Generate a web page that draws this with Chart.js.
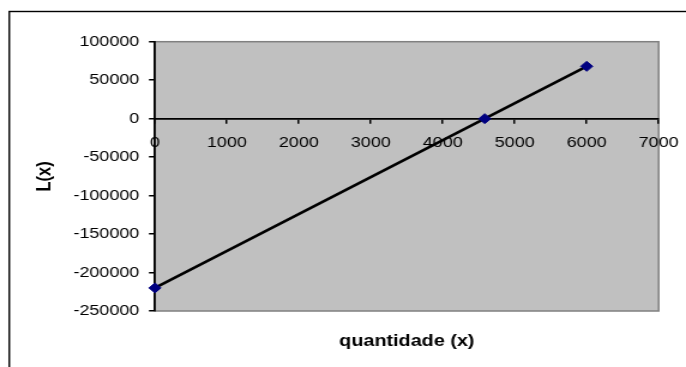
<!DOCTYPE html>
<html>
<head>
<meta charset="utf-8">
<script src="https://cdn.jsdelivr.net/npm/chart.js@4/dist/chart.umd.min.js"></script>
<style>
  html, body { margin: 0; padding: 0; background: #ffffff; overflow: hidden; }
  #wrap { width: 686px; height: 367px; position: relative; }
  /* the chart is drawn on a narrower canvas and widened to the page width */
  #c { display: block; width: 686px; height: 367px; }
</style>
</head>
<body>
<div id="wrap"><canvas id="c" width="572" height="367" style="width:686px;height:367px"></canvas></div>
<script>
// Profit function L(x) evaluated at three quantities
const quantities = [0, 4583, 6000];
const profits = [-220000, 0, 68000];

const xTicks = [0, 1000, 2000, 3000, 4000, 5000, 6000, 7000];
const yTicks = [-250000, -200000, -150000, -100000, -50000, 0, 50000, 100000];

const FONT = "'Liberation Sans', Arial, sans-serif";

// Canvas background, outer frame and grey plot area
const frame = {
  id: 'frame',
  beforeDraw(chart) {
    const ctx = chart.ctx;
    const a = chart.chartArea;
    ctx.save();
    ctx.fillStyle = '#ffffff';
    ctx.fillRect(0, 0, chart.width, chart.height);
    ctx.strokeStyle = '#000000';
    ctx.lineWidth = 1.4;
    ctx.strokeRect(7.75, 11.5, chart.width + 20, chart.height + 20);
    ctx.fillStyle = '#c0c0c0';
    ctx.fillRect(a.left, a.top, a.right - a.left, a.bottom - a.top);
    ctx.strokeStyle = '#808080';
    ctx.lineWidth = 1.5;
    ctx.strokeRect(a.left, a.top, a.right - a.left, a.bottom - a.top);
    ctx.restore();
  }
};

new Chart(document.getElementById('c'), {
  type: 'scatter',
  data: {
    datasets: [{
      data: quantities.map((q, i) => ({ x: q, y: profits[i] })),
      showLine: true,
      borderColor: '#000000',
      borderWidth: 2.6,
      pointStyle: 'rectRot',
      pointRadius: 5,
      pointBackgroundColor: '#000080',
      pointBorderColor: '#000080',
      pointBorderWidth: 1,
      clip: false
    }]
  },
  options: {
    responsive: false,
    animation: false,
    devicePixelRatio: 1,
    layout: { padding: { left: 0, top: 41.7, right: 22.8, bottom: 15.2 } },
    plugins: {
      legend: { display: false },
      tooltip: { enabled: false },
      title: {
        display: true,
        position: 'bottom',
        fullSize: false,
        text: 'quantidade (x)',
        color: '#000000',
        font: { family: FONT, size: 16.5, weight: 'bold' },
        padding: { top: 21, bottom: 0 }
      }
    },
    scales: {
      x: {
        type: 'linear',
        position: { y: 0 },
        min: 0,
        max: 7000,
        afterBuildTicks: s => { s.ticks = xTicks.map(v => ({ value: v })); },
        afterFit: s => { s.paddingLeft = 0; s.paddingRight = 0; },
        ticks: {
          color: '#000000',
          font: { family: FONT, size: 15 },
          padding: 11,
          maxRotation: 0,
          autoSkip: false,
          callback: v => String(v)
        },
        grid: { drawOnChartArea: false, drawTicks: true, tickLength: 4, color: '#000000', lineWidth: 1.5 },
        border: { display: true, color: '#000000', width: 1.8 }
      },
      y: {
        type: 'linear',
        position: 'left',
        min: -250000,
        max: 100000,
        afterBuildTicks: s => { s.ticks = yTicks.map(v => ({ value: v })); },
        afterFit: s => { s.width = 129.2; },
        title: {
          display: true,
          text: 'L(x)',
          color: '#000000',
          font: { family: FONT, size: 16.5, weight: 'bold' },
          padding: { top: 27.6, bottom: 0 }
        },
        ticks: {
          color: '#000000',
          font: { family: FONT, size: 15 },
          padding: 8,
          autoSkip: false,
          callback: v => String(v)
        },
        grid: { drawOnChartArea: false, drawTicks: true, tickLength: 5, color: '#000000', lineWidth: 1.5 },
        border: { display: true, color: '#000000', width: 1.8 }
      }
    }
  },
  plugins: [frame]
});
</script>
</body>
</html>
